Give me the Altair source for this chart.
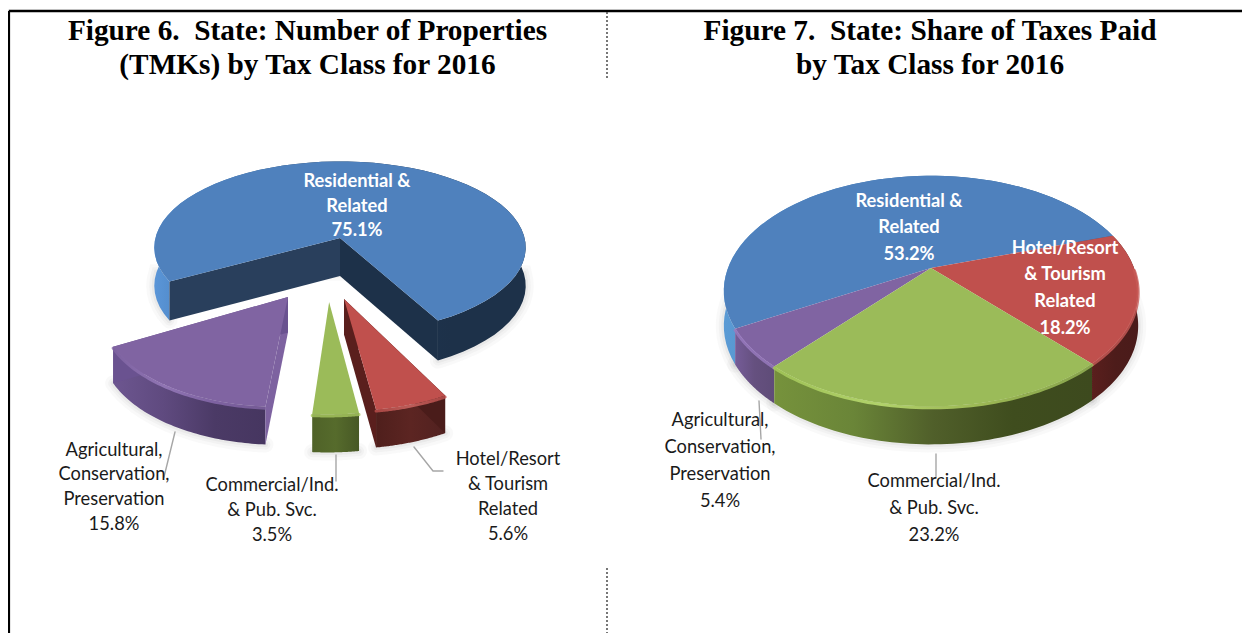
import math
import altair as alt
import pandas as pd

categories = ["Residential & Related", "Hotel/Resort & Tourism Related",
              "Commercial/Ind. & Pub. Svc.", "Agricultural, Conservation, Preservation"]
fig6_shares = [75.1, 5.6, 3.5, 15.8]
fig7_shares = [53.2, 18.2, 23.2, 5.4]

title_lines = [("Figure 6.\u00a0 State: Number of Properties", 307.5, 31),
               ("(TMKs) by Tax Class for 2016", 307.5, 64.5),
               ("Figure 7.\u00a0 State: Share of Taxes Paid", 930, 31),
               ("by Tax Class for 2016", 930, 64.5)]

W, H = 1234, 625
X_SCALE = alt.Scale(domain=[8, 8 + W], zero=False, nice=False)
Y_SCALE = alt.Scale(domain=[8 + H, 8], zero=False, nice=False)
EX = alt.X("x:Q", scale=X_SCALE, axis=None)
EY = alt.Y("y:Q", scale=Y_SCALE, axis=None)


def grad(*stops, vertical=False):
    n = len(stops) - 1
    return {"gradient": "linear", "x1": 0, "y1": 0, "x2": 0 if vertical else 1, "y2": 1 if vertical else 0,
            "stops": [{"offset": i / n, "color": c} for i, c in enumerate(stops)]}


def proj(g, u, v, h=0.0):
    den = 1 - g["k"] * v
    return (g["cx"] + g["a"] * u / den, g["cy"] + g["b"] * v / den + h / math.sqrt(den))


def poly(pts, fill):
    df = pd.DataFrame({"x": [p[0] for p in pts], "y": [p[1] for p in pts], "i": range(len(pts))})
    return alt.Chart(df).mark_line(fill=fill, strokeWidth=0, interpolate="linear").encode(
        x=EX, y=EY, order="i:Q")


def stroke(pts, color, width, opacity=1.0, **kw):
    df = pd.DataFrame({"x": [p[0] for p in pts], "y": [p[1] for p in pts], "i": range(len(pts))})
    return alt.Chart(df).mark_line(stroke=color, strokeWidth=width, opacity=opacity,
                                   strokeCap="round", **kw).encode(x=EX, y=EY, order="i:Q")


def arc_uv(t1, t2, r, ox, oy, n=60):
    out = []
    for j in range(n + 1):
        t = math.radians(t1 + (t2 - t1) * j / n)
        out.append((ox + r * math.sin(t), oy - r * math.cos(t)))
    return out


def wedge(g, shares_deg, sty):
    t1, sweep = shares_deg
    t2 = t1 + sweep
    g = dict(g, **sty.get("g", {}))
    r, ox, oy = sty.get("r", 1.0), sty.get("ox", 0.0), sty.get("oy", 0.0)
    h = g["h"]
    uv = arc_uv(t1, t2, r, ox, oy)
    top = [proj(g, u, v) for u, v in uv]
    bot = [proj(g, u, v, h) for u, v in uv]
    apex = proj(g, ox, oy)
    apexb = proj(g, ox, oy, h)
    under, over = [], []
    front = [p for p, (u, v) in zip(bot, uv) if v > oy - 0.05]
    if front:
        for w, o in ((16, 0.05), (10, 0.06), (5, 0.08)):
            under.append(stroke(front, "#808080", w, o))
    layers = [poly(top + bot[::-1], sty["wall"])]
    if "cutA" in sty:
        layers.append(poly([apex, top[0], bot[0], apexb], sty["cutA"]))
    if "cutB" in sty:
        layers.append(poly([apex, top[-1], bot[-1], apexb], sty["cutB"]))
    layers.append(poly([apex] + top, sty["top"]))
    if "glow" in sty:
        f = [p for p, (u, v) in zip(top, uv) if v > oy]
        if f:
            over.append(stroke([(x, y + 1.5) for x, y in f], sty["glow"], 3, 0.8))
    return under, layers + over


def pie(g, shares, styles, start):
    under, layers = [], []
    t = start
    for s, sty in zip(shares, styles):
        sweep = s / 100 * 360
        u, l = wedge(g, (t, sweep), sty)
        under += u
        layers.append((sty.get("z", 0), l))
        t += sweep
    out = list(under)
    for _, l in sorted(layers, key=lambda p: p[0]):
        out += l
    return out


G6 = dict(cx=340, cy=237, a=184.6, b=89, k=0.125, h=34)
G7 = dict(cx=931, cy=268, a=203, b=110.7, k=0.2, h=34)

styles6 = [
    dict(top="#4f81bd", wall=grad("#5b96d8", "#3a70aa", "#24405f", "#1e3450", "#1d3149", "#1d3149"),
         cutA="#293f5c", cutB="#1d3149", z=0, g=dict(b=85, k=0.11, cy=238, h=38)),
    dict(top="#c0504d", wall=grad("#4f1f1c", "#5c2522", "#512120"), cutA="#4a1c1a", cutB="#5a1f1d",
         glow=grad("#c0504d", "#d46a66", "#c0504d"), r=0.93, ox=0.02, oy=0.641, z=2),
    dict(top="#9bbb59", wall=grad("#4f6228", "#566b2c", "#475825"), glow="#a8c860",
         r=0.927, ox=-0.054, oy=0.669, z=1),
    dict(top="#8064a2", wall=grad("#6d5690", "#5f4a7f", "#4b3a66", "#463660"),
         cutA="#7d62a0", cutB="#6a5290", glow=grad("#8064a2", "#9c7fc0", "#8a6cb0", "#8064a2"),
         r=0.92, ox=-0.26, oy=0.622, z=1),
]
styles7 = [
    dict(top="#4f81bd", wall=grad("#5b9bd5", "#3a6fa5", "#2f5f90"), z=0),
    dict(top="#c0504d", wall=grad("#5a1f1d", "#4d1c1a", "#4a1b1a"), glow="#c85a56", z=1),
    dict(top="#9bbb59", wall=grad("#76923c", "#6a8538", "#505f2a", "#3f4d1e", "#3d4a1e"),
         glow=grad("#a8cc5c", "#c5e878", "#b0d060", "#9bbb59"), z=2),
    dict(top="#8064a2", wall=grad("#755c98", "#65507f", "#5f4c78"), glow="#9a7cc0", z=1),
]

layers = []
layers += pie(G6, fig6_shares, styles6, 241)
layers += pie(G7, fig7_shares, styles7, 240.4)

# frame
frame = pd.DataFrame({"x": [8.8, 8.8], "x2": [1242, 8.8], "y": [11, 11], "y2": [11, 633]})
layers.append(alt.Chart(frame).mark_rule(color="#000000", strokeWidth=2.6).encode(
    x=EX, x2="x2:Q", y=EY, y2="y2:Q"))
dash = pd.DataFrame({"x": [607, 607], "y": [12, 568], "y2": [78, 633]})
layers.append(alt.Chart(dash).mark_rule(color="#555555", strokeWidth=1.6, strokeDash=[2, 2]).encode(
    x=EX, y=EY, y2="y2:Q"))

# leader lines
leaders = [[(175, 432), (164, 477)], [(336, 455), (336, 481)], [(414, 447), (433, 471), (443, 471)],
           [(759, 401), (761, 439)], [(936, 454), (936, 478)]]
for pts in leaders:
    layers.append(stroke(pts, "#a6a6a6", 1.4))


def pct(v):
    return f"{v:.1f}%"


white = [("Residential &", 357, 182), ("Related", 357, 207), (pct(fig6_shares[0]), 357, 231),
         ("Residential &", 909, 202), ("Related", 909, 228), (pct(fig7_shares[0]), 909, 255),
         ("Hotel/Resort", 1065, 249), ("& Tourism", 1065, 275), ("Related", 1065, 302),
         (pct(fig7_shares[1]), 1065, 329)]
black = [("Agricultural,", 114, 451), ("Conservation,", 114, 475), ("Preservation", 114, 500),
         (pct(fig6_shares[3]), 114, 525),
         ("Commercial/Ind.", 272, 486), ("& Pub. Svc.", 272, 511), (pct(fig6_shares[2]), 272, 536),
         ("Hotel/Resort", 508, 460), ("& Tourism", 508, 485), ("Related", 508, 510),
         (pct(fig6_shares[1]), 508, 535),
         ("Agricultural,", 720, 421), ("Conservation,", 720, 448), ("Preservation", 720, 475),
         (pct(fig7_shares[3]), 720, 502),
         ("Commercial/Ind.", 934, 482), ("& Pub. Svc.", 934, 509), (pct(fig7_shares[2]), 934, 536)]


def text_layer(rows, **mk):
    df = pd.DataFrame(rows, columns=["t", "x", "y"])
    return alt.Chart(df).mark_text(align="center", baseline="middle", **mk).encode(
        x=EX, y=EY, text="t:N")


layers.append(text_layer(title_lines, font="Liberation Serif", fontSize=29.3, fontWeight="bold", color="#000000"))
layers.append(text_layer(white, font="Lato", fontSize=18.3, fontWeight="bold", color="#ffffff"))
layers.append(text_layer(black, font="Lato", fontSize=18.3, color="#1a1a1a"))

chart = alt.layer(*layers).properties(
    width=W, height=H, padding=0, autosize=alt.AutoSizeParams(type="none"),
    background="#ffffff").configure_view(stroke=None)
chart.save("out.html", embed_options={"renderer": "svg", "actions": False})
